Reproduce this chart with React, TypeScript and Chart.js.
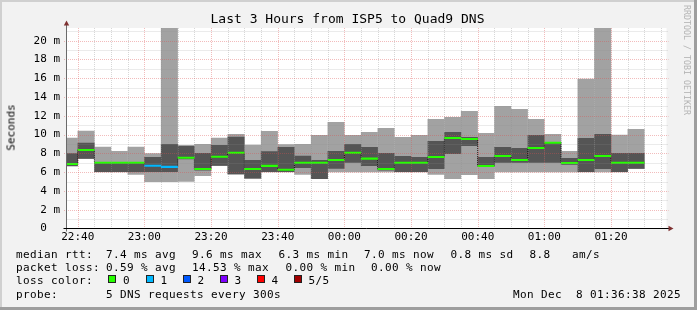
import React, { useEffect, useRef } from 'react';
import { Chart, registerables } from 'chart.js';

Chart.register(...registerables);

// ---------- data ----------
const rangeStart = '22:36:38';
const rangeEnd = '01:36:38';

const slotStarts = [
  '22:35', '22:40', '22:45', '22:50', '22:55',
  '23:00', '23:05', '23:10', '23:15', '23:20', '23:25', '23:30', '23:35', '23:40', '23:45', '23:50', '23:55',
  '00:00', '00:05', '00:10', '00:15', '00:20', '00:25', '00:30', '00:35', '00:40', '00:45', '00:50', '00:55',
  '01:00', '01:05', '01:10', '01:15', '01:20', '01:25',
];

// ms
const rttMin = [6.6, 7.4, 6.0, 6.0, 5.73, 4.95, 4.95, 4.97, 5.6, 6.65, 5.75, 5.3, 6.0, 6.0, 5.73, 5.27, 6.0, 6.0, 6.0, 6.0, 6.0, 6.0, 5.73, 5.27, 5.7, 5.27, 6.0, 6.0, 6.0, 6.0, 6.0, 6.0, 6.0, 6.0, 6.34];
const rttP2 = [6.65, 7.42, 6.02, 6.02, 6.02, 6.02, 6.02, 7.37, 6.18, 6.67, 5.77, 5.32, 6.02, 6.02, 6.43, 5.28, 6.36, 7.0, 6.66, 6.18, 6.02, 6.02, 6.34, 7.93, 8.79, 6.55, 7.0, 7.0, 7.0, 7.0, 6.8, 6.02, 6.34, 6.02, 6.36];
const rttMedian = [6.87, 8.36, 7.0, 7.0, 7.0, 6.68, 6.56, 7.54, 6.34, 7.64, 8.07, 6.34, 6.67, 6.25, 7.0, 7.0, 7.29, 8.07, 7.44, 6.34, 7.0, 7.0, 7.61, 9.64, 9.53, 6.66, 7.72, 7.29, 8.57, 9.14, 6.97, 7.29, 7.72, 7.0, 7.0];
const rttP4 = [8.0, 9.14, 7.0, 7.0, 7.0, 7.61, 9.0, 8.78, 8.04, 8.9, 9.76, 7.29, 8.22, 8.69, 7.74, 7.29, 8.25, 9.0, 8.68, 8.04, 7.72, 7.61, 9.32, 10.28, 9.74, 7.61, 8.68, 8.57, 9.96, 9.2, 7.5, 9.64, 10.06, 8.04, 8.04];
const rttMax = [9.67, 10.4, 8.71, 8.25, 8.71, 8.02, 24.0, 8.9, 9.0, 9.67, 10.06, 8.93, 10.38, 8.96, 9.0, 9.96, 11.34, 9.96, 10.28, 10.7, 9.74, 9.96, 11.66, 11.87, 12.51, 10.17, 13.05, 12.72, 11.66, 10.06, 8.25, 15.95, 24.0, 9.98, 10.6];
const lossCount = [0, 0, 0, 0, 0, 1, 1, 0, 0, 0, 0, 0, 0, 0, 0, 0, 0, 0, 0, 0, 0, 0, 0, 0, 0, 0, 0, 0, 0, 0, 0, 0, 0, 0, 0];

const lossColors = ['#26ff00', '#00b8ff', '#0059ff', '#7e00ff', '#ff0000', '#a10000'];
const lossLabels = ['0', '1', '2', '3', '4', '5/5'];

const xTickLabels = ['22:40', '23:00', '23:20', '23:40', '00:00', '00:20', '00:40', '01:00', '01:20'];
const yTickLabels = ['0', '2 m', '4 m', '6 m', '8 m', '10 m', '12 m', '14 m', '16 m', '18 m', '20 m'];
const yTickValues = [0, 2, 4, 6, 8, 10, 12, 14, 16, 18, 20];

const titleText = 'Last 3 Hours from ISP5 to Quad9 DNS';
const axisTitle = 'Seconds';
const watermark = 'RRDTOOL / TOBI OETIKER';

const medianRow = ['median rtt:', '7.4 ms avg', '9.6 ms max', '6.3 ms min', '7.0 ms now', '0.8 ms sd', '8.8', 'am/s'];
const lossRow = ['packet loss:', '0.59 % avg', '14.53 % max', '0.00 % min', '0.00 % now'];
const colorRowLabel = 'loss color:';
const probeRow = ['probe:', '5 DNS requests every 300s'];
const dateText = 'Mon Dec  8 01:36:38 2025';

// ---------- layout / style ----------
const W = 697;
const H = 310;
const MONO = '"DejaVu Sans Mono", monospace';
const LIGHT = '#a2a2a2';
const DARK = '#555555';
const MEDIAN_HALF = 0.11;
const medianRowX = [16, 106, 192, 278.5, 364, 450.5, 529.5, 572];
const lossRowX = [16, 106, 192, 285.5, 371];
const boxX = [108, 145.5, 182.5, 219.5, 256.5, 293.5];
const rowBaselines = [258, 271.3, 284.7, 298];

const toMin = (t: string) => {
  const p = t.split(':').map(Number);
  const v = p[0] * 60 + p[1] + (p[2] || 0) / 60;
  return (v - 1320 + 1440) % 1440;
};

const startMin = toMin(rangeStart);
const endMin = toMin(rangeEnd);
const slotMin = slotStarts.map(toMin);
const STEP = 5;

const xGridValues: number[] = [];
for (let m = Math.ceil(startMin / STEP) * STEP; m <= endMin; m += STEP) xGridValues.push(m);
const yGridValues: number[] = [];
for (let v = 0; v <= 21; v++) yGridValues.push(v);

const rrdPlugin = {
  id: 'rrdlook',
  beforeDraw(chart: any) {
    const { ctx, chartArea: a } = chart;
    ctx.save();
    ctx.fillStyle = '#ffffff';
    ctx.fillRect(a.left, a.top, a.right - a.left, a.bottom - a.top);
    ctx.restore();
  },
  afterDatasetsDraw(chart: any) {
    const { ctx, chartArea: a, scales } = chart;
    const xs = scales.x;
    const ys = scales.y;
    const minor = 'rgba(143,143,143,0.36)';
    const major = 'rgba(222,80,80,0.38)';
    ctx.save();
    ctx.lineWidth = 1;
    ctx.setLineDash([1, 1]);
    xs.ticks.forEach((t: any) => {
      const px = Math.round(xs.getPixelForValue(t.value)) + 0.5;
      ctx.strokeStyle = t.label ? major : minor;
      ctx.beginPath();
      ctx.moveTo(px, a.top);
      ctx.lineTo(px, a.bottom);
      ctx.stroke();
    });
    ys.ticks.forEach((t: any) => {
      if (t.value === 0) return;
      const py = Math.round(ys.getPixelForValue(t.value)) + 0.5;
      ctx.strokeStyle = t.label ? major : minor;
      ctx.beginPath();
      ctx.moveTo(t.label ? a.left - 2.5 : a.left, py);
      ctx.lineTo(a.right + 2, py);
      ctx.stroke();
    });
    ctx.setLineDash([]);
    // axes
    const ax = Math.floor(a.left) + 0.5;
    const ay = Math.floor(a.bottom) + 0.5;
    ctx.strokeStyle = '#6a6a6a';
    ctx.beginPath();
    ctx.moveTo(ax, ay + 3);
    ctx.lineTo(ax, a.top - 3);
    ctx.stroke();
    ctx.strokeStyle = '#000000';
    ctx.beginPath();
    ctx.moveTo(ax - 3, ay);
    ctx.lineTo(a.right + 2.5, ay);
    ctx.stroke();
    // arrows
    ctx.fillStyle = '#7f3131';
    ctx.beginPath();
    ctx.moveTo(ax - 2.7, a.top - 2.5);
    ctx.lineTo(ax + 2.7, a.top - 2.5);
    ctx.lineTo(ax, a.top - 7.5);
    ctx.closePath();
    ctx.fill();
    ctx.beginPath();
    ctx.moveTo(a.right + 2, ay - 2.7);
    ctx.lineTo(a.right + 2, ay + 2.7);
    ctx.lineTo(a.right + 7, ay);
    ctx.closePath();
    ctx.fill();
    ctx.restore();
  },
};

const textStyle = (left: number, baseline: number, size: number, lh: number): React.CSSProperties => ({
  position: 'absolute',
  left,
  top: baseline - ((lh - 1.164 * size) / 2 + 0.928 * size),
  fontFamily: MONO,
  fontSize: size,
  lineHeight: `${lh}px`,
  whiteSpace: 'pre',
  color: '#000',
});

export default function App() {
  const ref = useRef<HTMLCanvasElement | null>(null);

  useEffect(() => {
    if (!ref.current) return;
    const centers = slotMin.map((m) => m + STEP / 2);
    const lastEnd = slotMin[slotMin.length - 1] + STEP;
    const connector = slotMin.map((m, i) => ({ x: m, y: rttMedian[i] }));
    connector.push({ x: lastEnd, y: rttMedian[rttMedian.length - 1] });

    const barCommon = {
      type: 'bar' as const,
      grouped: false,
      barThickness: 17,
      inflateAmount: 0,
      borderWidth: 0,
    };

    const chart = new Chart(ref.current, {
      type: 'bar',
      data: {
        datasets: [
          {
            ...barCommon,
            label: 'min-max',
            data: centers.map((x, i) => ({ x, y: [rttMin[i], rttMax[i]] })) as any,
            backgroundColor: LIGHT,
            order: 4,
          },
          {
            ...barCommon,
            label: 'p2-p4',
            data: centers.map((x, i) => ({ x, y: [rttP2[i], rttP4[i]] })) as any,
            backgroundColor: DARK,
            order: 3,
          },
          {
            type: 'line',
            label: 'median step',
            data: connector as any,
            borderColor: '#111',
            borderWidth: 1,
            borderDash: [1, 1],
            pointRadius: 0,
            stepped: 'before',
            fill: false,
            order: 2,
          } as any,
          {
            ...barCommon,
            label: 'median',
            data: centers.map((x, i) => ({ x, y: [rttMedian[i] - MEDIAN_HALF, rttMedian[i] + MEDIAN_HALF] })) as any,
            backgroundColor: lossCount.map((l) => lossColors[l]),
            order: 1,
          },
        ] as any,
      },
      options: {
        animation: false,
        responsive: false,
        devicePixelRatio: 1,
        layout: { padding: { left: 0, top: 28, right: 30.5, bottom: 61.5 } },
        plugins: { legend: { display: false }, tooltip: { enabled: false }, title: { display: false } },
        scales: {
          x: {
            type: 'linear',
            min: startMin,
            max: endMin,
            offset: false,
            grid: { display: false, drawTicks: false, offset: false },
            border: { display: false },
            afterBuildTicks: (s: any) => {
              s.ticks = xGridValues.map((v) => ({ value: v }));
            },
            afterFit: (s: any) => {
              s.height = 20;
            },
            ticks: {
              autoSkip: false,
              maxRotation: 0,
              minRotation: 0,
              padding: 2.5,
              color: '#000',
              font: { family: MONO, size: 11 },
              callback: (v: any) => {
                const lab = xTickLabels.find((l) => Math.abs(toMin(l) - Number(v)) < 1e-6);
                return lab || '';
              },
            },
          },
          y: {
            type: 'linear',
            min: 0,
            max: 21.35,
            grid: { display: false, drawTicks: false },
            border: { display: false },
            afterBuildTicks: (s: any) => {
              s.ticks = yGridValues.map((v) => ({ value: v }));
            },
            afterFit: (s: any) => {
              s.width = 66.5;
            },
            ticks: {
              autoSkip: false,
              padding: 6.5,
              color: '#000',
              font: { family: MONO, size: 11 },
              callback: (v: any) => {
                const idx = yTickValues.indexOf(Number(v));
                if (idx < 0) return '';
                const lab = yTickLabels[idx];
                return lab.includes(' ') ? lab : lab + '  ';
              },
            },
          },
        },
      } as any,
      plugins: [rrdPlugin],
    });
    return () => chart.destroy();
  }, []);

  const legendFont = 11;
  const lsp = 0.38;

  return (
    <div
      style={{
        position: 'fixed',
        left: 0,
        top: 0,
        width: W,
        height: H,
        background: '#f2f2f2',
        overflow: 'hidden',
      }}
    >
      <canvas ref={ref} width={W} height={H} style={{ position: 'absolute', left: 0, top: 0 }} />

      <div style={{ ...textStyle(0, 23.3, 13, 13), width: W - 2, textAlign: 'center' }}>{titleText}</div>

      <div
        style={{
          position: 'absolute',
          left: 11.2 - 40,
          top: 127 - 6.5,
          width: 80,
          height: 13,
          lineHeight: '13px',
          fontFamily: MONO,
          fontSize: 11,
          textAlign: 'center',
          transform: 'rotate(-90deg)',
          color: '#000',
        }}
      >
        {axisTitle}
      </div>

      <div
        style={{
          position: 'absolute',
          left: 686.9 - 60,
          top: 60 - 5,
          width: 120,
          height: 10,
          lineHeight: '10px',
          fontFamily: MONO,
          fontSize: 8.3,
          textAlign: 'center',
          transform: 'rotate(90deg)',
          color: '#b4b4b4',
          whiteSpace: 'pre',
        }}
      >
        {watermark}
      </div>

      {medianRow.map((t, i) => (
        <div key={'m' + i} style={{ ...textStyle(medianRowX[i], rowBaselines[0], legendFont, 13), letterSpacing: lsp }}>
          {t}
        </div>
      ))}
      {lossRow.map((t, i) => (
        <div key={'l' + i} style={{ ...textStyle(lossRowX[i], rowBaselines[1], legendFont, 13), letterSpacing: lsp }}>
          {t}
        </div>
      ))}
      <div style={{ ...textStyle(16, rowBaselines[2], legendFont, 13), letterSpacing: lsp }}>{colorRowLabel}</div>
      {lossLabels.map((t, i) => (
        <React.Fragment key={'c' + i}>
          <div
            style={{
              position: 'absolute',
              left: boxX[i],
              top: rowBaselines[2] - 9.5,
              width: 8,
              height: 8,
              boxSizing: 'border-box',
              border: '1px solid #222',
              background: lossColors[i],
            }}
          />
          <div style={{ ...textStyle(boxX[i] + 15, rowBaselines[2], legendFont, 13), letterSpacing: lsp }}>{t}</div>
        </React.Fragment>
      ))}
      <div style={{ ...textStyle(16, rowBaselines[3], legendFont, 13), letterSpacing: lsp }}>{probeRow[0]}</div>
      <div style={{ ...textStyle(106, rowBaselines[3], legendFont, 13), letterSpacing: lsp }}>{probeRow[1]}</div>
      <div
        style={{
          ...textStyle(0, rowBaselines[3], legendFont, 13),
          left: undefined,
          right: W - 681,
          letterSpacing: lsp,
        }}
      >
        {dateText}
      </div>

      <div style={{ position: 'absolute', left: 0, top: 0, width: W, height: 2, background: '#d0d0d0' }} />
      <div style={{ position: 'absolute', left: 0, top: 0, width: 2, height: H, background: '#d0d0d0' }} />
      <div style={{ position: 'absolute', left: W - 3, top: 0, width: 3, height: H, background: '#9e9e9e' }} />
      <div style={{ position: 'absolute', left: 0, top: H - 3, width: W, height: 3, background: '#9e9e9e' }} />
    </div>
  );
}
